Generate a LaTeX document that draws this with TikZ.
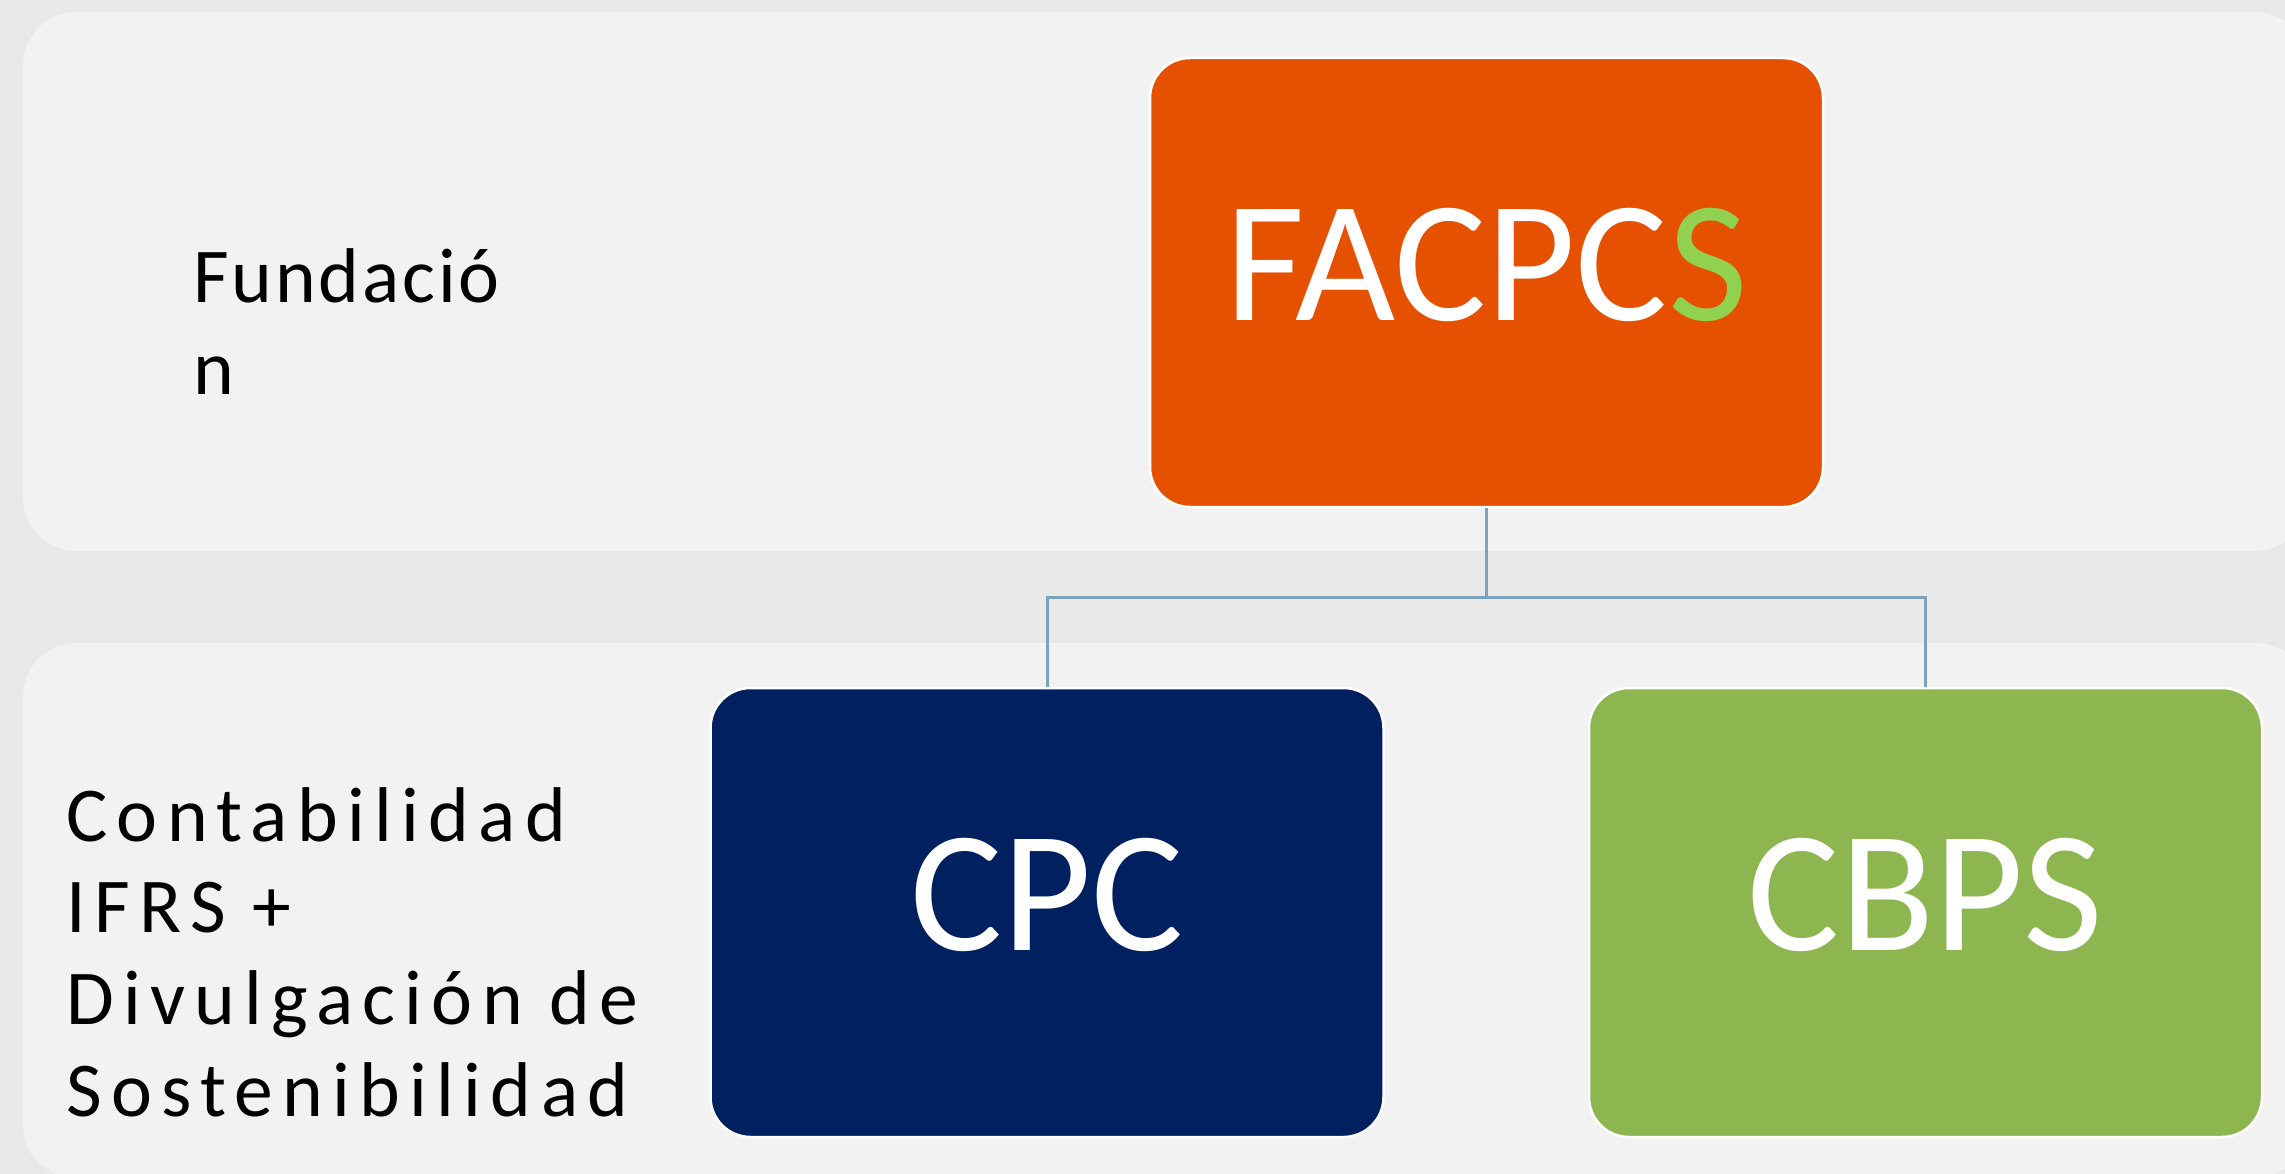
\documentclass[tikz,border=0pt]{standalone}
\usepackage{fontspec}
\setmainfont{Carlito}
\newfontfamily\spacedA[LetterSpace=3.7]{Carlito}
\newfontfamily\spacedB[LetterSpace=12]{Carlito}
\definecolor{bgc}{HTML}{E8E8E8}
\definecolor{bandc}{HTML}{F2F2F2}
\definecolor{orangec}{HTML}{E55100}
\definecolor{navyc}{HTML}{002060}
\definecolor{greenc}{HTML}{8DB650}
\definecolor{lightgreenc}{HTML}{92D050}
\definecolor{connc}{HTML}{7BA2BF}
\begin{document}
\begin{tikzpicture}[x=1pt,y=-1pt,
  band/.style={fill=bandc, rounded corners=53pt},
  orgbox/.style={draw=white, line width=2.5pt, rounded corners=40pt,
    minimum width=673pt, minimum height=449pt, inner sep=0pt, text=white,
    font=\fontsize{173}{200}\selectfont, text height=114pt, text depth=38pt},
  conn/.style={draw=connc, line width=3pt},
  sidetxt/.style={inner sep=0pt, anchor=base west, text=black,
    font=\fontsize{77.6}{92}\selectfont}]
\useasboundingbox (0,0) rectangle (2285,1174);
\clip (0,0) rectangle (2285,1174);
\fill[bgc] (0,0) rectangle (2285,1174);
\path[band] (23,12) rectangle (2308,551);
\path[band] (23,643) rectangle (2308,1178);

\node[orgbox, fill=orangec] (facpcs) at (1486.5,282.5) {FACPC\textcolor{lightgreenc}{S}};
\node[orgbox, fill=navyc] (cpc) at (1047,912.5) {CPC};
\node[orgbox, fill=greenc] (cbps) at (1925.5,912.5) {CBPS};

\coordinate (jn) at (1486.5,597);
\draw[conn] (facpcs.south) -- (jn);
\draw[conn] (cpc.north) |- (jn) -| (cbps.north);

\node[sidetxt] (f1) at (193,302) {\spacedA Fundació};
\node[sidetxt] (f2) at (193,394) {\spacedA n};

\node[sidetxt] (c1) at (66,841) {\spacedB Contabilidad};
\node[sidetxt] (c2) at (66,932) {\spacedB IFRS +};
\node[sidetxt] (c3) at (66,1024) {\spacedB Divulgación de};
\node[sidetxt] (c4) at (66,1116) {\spacedB Sostenibilidad};
\end{tikzpicture}
\end{document}
